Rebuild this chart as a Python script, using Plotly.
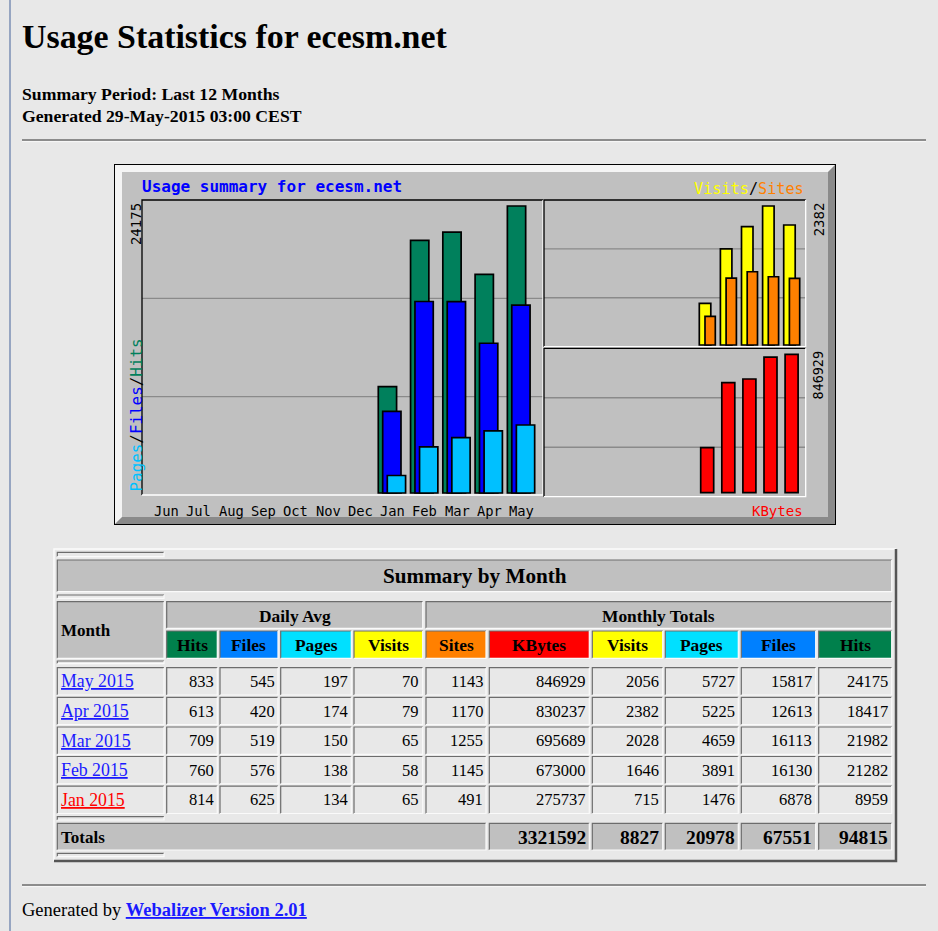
import plotly.graph_objects as go

W, H = 938, 931

# ---------------- data ----------------
chart_months = ["Jun", "Jul", "Aug", "Sep", "Oct", "Nov", "Dec", "Jan", "Feb", "Mar", "Apr", "May"]
table_months = ["May 2015", "Apr 2015", "Mar 2015", "Feb 2015", "Jan 2015"]
chart_index = [11, 10, 9, 8, 7]          # position of each table month on the chart
daily_hits = [833, 613, 709, 760, 814]
daily_files = [545, 420, 519, 576, 625]
daily_pages = [197, 174, 150, 138, 134]
daily_visits = [70, 79, 65, 58, 65]
sites = [1143, 1170, 1255, 1145, 491]
kbytes = [846929, 830237, 695689, 673000, 275737]
visits = [2056, 2382, 2028, 1646, 715]
pages = [5727, 5225, 4659, 3891, 1476]
files = [15817, 12613, 16113, 16130, 6878]
hits = [24175, 18417, 21982, 21282, 8959]
totals = [3321592, 8827, 20978, 67551, 94815]   # KBytes, Visits, Pages, Files, Hits

# ---------------- colours ----------------
C_HITS, C_FILES, C_PAGES = "#00805c", "#0000ff", "#00c0ff"
C_VISITS, C_SITES, C_KB = "#ffff00", "#ff8000", "#ff0000"
T_HITS, T_FILES, T_PAGES = "#00804c", "#0080ff", "#00e0ff"
BG = "#e8e8e8"
GRAY = "#c0c0c0"
SERIF = "Liberation Serif, Times New Roman, serif"
MONO = "DejaVu Sans Mono, monospace"


def px(x):
    return x / W


def py(y):
    return 1 - y / H


shapes = []
annotations = []


def rect(x0, y0, x1, y1, fill, layer="below"):
    shapes.append(dict(type="rect", xref="paper", yref="paper", x0=px(x0), x1=px(x1),
                       y0=py(y1), y1=py(y0), fillcolor=fill, line=dict(width=0), layer=layer))


def path(pts, color, width=1, fill=None, layer="below", closed=False):
    d = "M " + " L ".join(f"{px(x):.6f},{py(y):.6f}" for x, y in pts)
    if closed:
        d += " Z"
    s = dict(type="path", xref="paper", yref="paper", path=d, layer=layer,
             line=dict(color=color, width=width))
    if fill:
        s["fillcolor"] = fill
    if width == 0:
        s["line"] = dict(width=0)
    shapes.append(s)


def text(x, y, t, size, color="#000000", family=SERIF, xanchor="left", yanchor="middle",
         angle=0, xref="paper"):
    annotations.append(dict(x=(x if xref != "paper" else px(x)), y=py(y), xref=xref, yref="paper",
                            text=t, showarrow=False, xanchor=xanchor, yanchor=yanchor,
                            textangle=angle, borderpad=0,
                            font=dict(size=size, color=color, family=family)))


# ---------------- page ----------------
path([(10, 0), (10, H)], "#7b8fb5", 1.5)
text(21, 36, "<b>Usage Statistics for ecesm.net</b>", 33.9)
text(21, 94, "<b>Summary Period: Last 12 Months</b>", 17.7)
text(21, 116, "<b>Generated 29-May-2015 03:00 CEST</b>", 17.7)
path([(22, 140), (926, 140)], "#6e6e6e", 1.5)
path([(22, 141.6), (926, 141.6)], "#f8f8f8", 1)
path([(22, 885), (926, 885)], "#6e6e6e", 1.5)
path([(22, 886.6), (926, 886.6)], "#f8f8f8", 1)
text(21, 910, 'Generated by <b><span style="color:#1a1aff"><u>Webalizer Version 2.01</u></span></b>', 18.5)

# ---------------- chart frame ----------------
rect(114, 164, 836, 525, "#000000")
rect(115, 165, 835, 524, "#8a8a8a")
path([(115, 165), (835, 165), (828, 172), (122, 172), (122, 517), (115, 524)], "#f4f4f4", 0,
     fill="#f4f4f4", closed=True)
rect(122, 172, 828, 517, GRAY)

# panel boxes (inset look)
panels = [(142, 200, 543, 495), (544, 200, 805.7, 346.7), (544, 348.3, 805.7, 496.7)]
for (x0, y0, x1, y1) in panels:
    path([(x0, y1), (x0, y0), (x1, y0)], "#000000", 1.3, layer="above")
    path([(x0, y1), (x1, y1), (x1, y0)], "#ffffff", 1.3, layer="above")

# ---------------- chart bars ----------------
fig = go.Figure()

# left panel scale
L_unit, L_c0 = 32.27, 166.7
L_base, L_top = 493.0, 206.0
max_hits = max(hits)
s_left = (L_base - L_top) / max_hits
left_x_range = [(142 - L_c0) / L_unit, (543 - L_c0) / L_unit]
left_y0 = -(495 - L_base) / s_left
left_y_range = [left_y0, left_y0 + (495 - 200) / s_left]

bw = 18.3 / L_unit
for vals, col, off in [(hits, C_HITS, -14.3), (files, C_FILES, -9.9), (pages, C_PAGES, -5.3)]:
    fig.add_trace(go.Bar(x=chart_index, y=vals, xaxis="x", yaxis="y", width=bw,
                         offset=off / L_unit, marker=dict(color=col, line=dict(color="#000000", width=1.7)),
                         hoverinfo="skip"))

# right panels scale
R_unit = 21.1
R_c0 = 707.2 - 7 * R_unit
right_x_range = [(544 - R_c0) / R_unit, (805.7 - R_c0) / R_unit]
T_base, T_top = 345.0, 206.0
max_vs = max(visits + sites)
s_tr = (T_base - T_top) / max_vs
tr_y0 = -(346.7 - T_base) / s_tr
tr_y_range = [tr_y0, tr_y0 + (346.7 - 200) / s_tr]
for vals, col, off, w in [(visits, C_VISITS, -7.9, 11.5), (sites, C_SITES, -2.2, 10.3)]:
    fig.add_trace(go.Bar(x=chart_index, y=vals, xaxis="x2", yaxis="y2", width=w / R_unit,
                         offset=off / R_unit, marker=dict(color=col, line=dict(color="#000000", width=1.7)),
                         hoverinfo="skip"))

B_base, B_top = 492.7, 354.3
max_kb = max(kbytes)
s_br = (B_base - B_top) / max_kb
br_y0 = -(496.7 - B_base) / s_br
br_y_range = [br_y0, br_y0 + (496.7 - 348.3) / s_br]
fig.add_trace(go.Bar(x=chart_index, y=kbytes, xaxis="x3", yaxis="y3", width=13 / R_unit,
                     offset=-6.5 / R_unit, marker=dict(color=C_KB, line=dict(color="#000000", width=1.7)),
                     hoverinfo="skip"))

# grid lines at thirds of each panel
for xr, yr in [("x", "y"), ("x2", "y2"), ("x3", "y3")]:
    for f in (1 / 3, 2 / 3):
        shapes.append(dict(type="line", xref=f"{xr} domain", yref=f"{yr} domain", x0=0, x1=1, y0=f, y1=f,
                           line=dict(color="#8a8a8a", width=1.4), layer="below"))

# chart text
text(141, 186.5, "<b>Usage summary for ecesm.net</b>", 16, color="#0000ff", family=MONO)
for i, m in enumerate(chart_months):
    text(i, 511, m, 13.8, family=MONO, xanchor="center", xref="x")
lbl = str(max_hits)
text(136, 203 + len(lbl) * 0.602 * 14 / 2, lbl, 14, family=MONO, xanchor="center", angle=-90)
text(135.5, 415, f'<span style="color:{C_PAGES}">Pages</span>/<span style="color:{C_FILES}">Files</span>/'
     f'<span style="color:{C_HITS}">Hits</span>', 15.9, family=MONO, xanchor="center", angle=-90)
text(805, 189, f'<span style="color:{C_VISITS}">Visits</span>/<span style="color:{C_SITES}">Sites</span>',
     15.2, family=MONO, xanchor="right")
lbl = str(max_vs)
text(818.5, 203 + len(lbl) * 0.602 * 14 / 2, lbl, 14, family=MONO, xanchor="center", angle=-90)
lbl = str(max_kb)
text(818.5, 351.7 + len(lbl) * 0.602 * 13.4 / 2, lbl, 13.4, family=MONO, xanchor="center", angle=-90)
text(804, 511, "KBytes", 14, color=C_KB, family=MONO, xanchor="right")

# ---------------- table ----------------
DARK, LIGHT = "#6c6c6c", "#fafafa"


def cell(x0, y0, x1, y1, fill):
    rect(x0, y0, x1, y1, fill)
    path([(x0, y1), (x0, y0), (x1, y0)], DARK, 1.2)
    path([(x0, y1), (x1, y1), (x1, y0)], LIGHT, 1.2)


# outer table border (raised)
path([(54, 861), (54, 549), (896, 549)], "#fbfbfb", 1.5)
path([(54, 861), (896, 861), (896, 549)], "#555555", 2.5)

cols = [(57.3, 164), (166.7, 217.3), (220, 278), (280.7, 351.3), (354, 422.7), (426, 486),
        (489.3, 589.3), (592.3, 662.7), (665.3, 738.3), (741.3, 815.7), (818.7, 891.7)]
thin_rows = [(552.3, 556.7), (595, 598.3), (661, 663.7), (816.7, 820), (853.3, 856.7)]
data_rows = [(667.7, 695), (697.3, 724.7), (727, 754.3), (756.5, 783.8), (786.1, 813.5)]

for (y0, y1) in thin_rows:
    cell(57.3, y0, 164, y1, BG)

# title row
cell(57.3, 560, 891.7, 591.7, GRAY)
text(475, 576, "<b>Summary by Month</b>", 21.2, xanchor="center")

# group headers
cell(57.3, 601.7, 164, 658.3, GRAY)
text(59.5, 630.5, "<b>Month</b>", 17, xanchor="left")
cell(166.7, 601.7, 422.7, 628.3, GRAY)
text((166.7 + 422.7) / 2, 615.5, "<b>Daily Avg</b>", 17.4, xanchor="center")
cell(426, 601.7, 891.7, 628.3, GRAY)
text((426 + 891.7) / 2, 615.5, "<b>Monthly Totals</b>", 17.4, xanchor="center")

head_labels = ["Hits", "Files", "Pages", "Visits", "Sites", "KBytes", "Visits", "Pages", "Files", "Hits"]
head_colors = [T_HITS, T_FILES, T_PAGES, C_VISITS, C_SITES, C_KB, C_VISITS, T_PAGES, T_FILES, T_HITS]
for (x0, x1), lab, colr in zip(cols[1:], head_labels, head_colors):
    cell(x0, 631, x1, 658.3, colr)
    text((x0 + x1) / 2, 645, f"<b>{lab}</b>", 17.4, xanchor="center")

# data rows
columns_data = [daily_hits, daily_files, daily_pages, daily_visits, sites, kbytes, visits, pages, files, hits]
for r, (y0, y1) in enumerate(data_rows):
    cell(57.3, y0, 164, y1, BG)
    link_col = "#ff0000" if r == len(data_rows) - 1 else "#1a1aff"
    text(59.5, (y0 + y1) / 2, f'<span style="color:{link_col}"><u>{table_months[r]}</u></span>', 17.8)
    for (x0, x1), series in zip(cols[1:], columns_data):
        cell(x0, y0, x1, y1, BG)
        text(x1 - 2.3, (y0 + y1) / 2, str(series[r]), 16.5, xanchor="right")

# totals row
cell(57.3, 823.3, 486, 850, GRAY)
text(59.5, 837, "<b>Totals</b>", 17, xanchor="left")
for (x0, x1), v in zip(cols[6:], totals):
    cell(x0, 823.3, x1, 850, GRAY)
    text(x1 - 2.3, 837, f"<b>{v}</b>", 19.5, xanchor="right")

# ---------------- layout ----------------
ax_common = dict(visible=False, fixedrange=True, showgrid=False, zeroline=False)
fig.update_layout(
    width=W, height=H, margin=dict(l=0, r=0, t=0, b=0, pad=0),
    paper_bgcolor=BG, plot_bgcolor="rgba(0,0,0,0)", showlegend=False,
    barmode="overlay", bargap=0,
    xaxis=dict(domain=[px(142), px(543)], range=left_x_range, **ax_common),
    yaxis=dict(domain=[py(495), py(200)], range=left_y_range, **ax_common),
    xaxis2=dict(domain=[px(544), px(805.7)], range=right_x_range, anchor="y2", **ax_common),
    yaxis2=dict(domain=[py(346.7), py(200)], range=tr_y_range, anchor="x2", **ax_common),
    xaxis3=dict(domain=[px(544), px(805.7)], range=right_x_range, anchor="y3", **ax_common),
    yaxis3=dict(domain=[py(496.7), py(348.3)], range=br_y_range, anchor="x3", **ax_common),
    shapes=shapes, annotations=annotations,
)

fig.write_html("out.html", config={"displayModeBar": False, "staticPlot": True},
               post_script="document.body.style.margin='0';document.body.style.overflow='hidden';")
